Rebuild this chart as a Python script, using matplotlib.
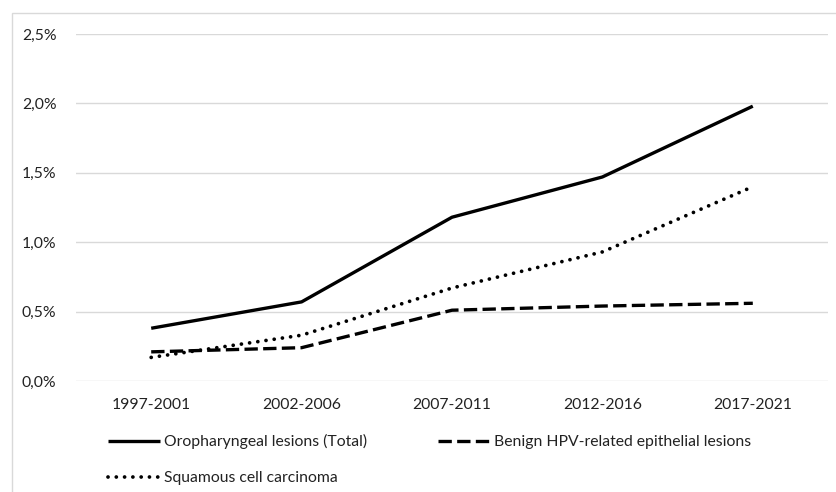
import matplotlib
matplotlib.use("Agg")
import matplotlib.pyplot as plt
from matplotlib.patches import Rectangle
from matplotlib.ticker import FuncFormatter

categories = ["1997-2001", "2002-2006", "2007-2011", "2012-2016", "2017-2021"]
total = [0.38, 0.57, 1.18, 1.47, 1.98]
benign = [0.21, 0.24, 0.51, 0.54, 0.56]
scc = [0.17, 0.33, 0.67, 0.93, 1.40]
yticks = [0.0, 0.5, 1.0, 1.5, 2.0, 2.5]

plt.rcParams['font.family'] = ['Lato', 'DejaVu Sans']
TXT = '#222222'

W, H = 837, 492
fig = plt.figure(figsize=(W/100, H/100), dpi=100)
ax = fig.add_axes([76/W, 1-381/H, (828-76)/W, (381-34)/H])

x = list(range(len(categories)))
lw = 2.4
l1, = ax.plot(x, total, color='black', lw=lw, solid_capstyle='butt',
              label='Oropharyngeal lesions (Total)')
l2, = ax.plot(x, benign, color='black', lw=lw, linestyle=(0, (4.0, 1.6)),
              dash_capstyle='butt', label='Benign HPV-related epithelial lesions')
l3, = ax.plot(x, scc, color='black', lw=2.7, linestyle=(0, (0.01, 2.2)),
              dash_capstyle='round', label='Squamous cell carcinoma')

ax.set_xlim(-0.5, len(categories)-0.5)
ax.set_ylim(0, 2.5)
ax.set_yticks(yticks)
ax.yaxis.set_major_formatter(FuncFormatter(lambda v, p: f"{v:.1f}%".replace('.', ',')))
ax.set_xticks(x)
ax.set_xticklabels(categories)
ax.grid(axis='y', color='#d9d9d9', lw=1)
ax.set_axisbelow(True)
for s in ax.spines.values():
    s.set_visible(False)
ax.tick_params(axis='both', length=0, labelsize=11.3, colors=TXT)
ax.tick_params(axis='x', pad=12)
ax.tick_params(axis='y', pad=14)

fig.patches.append(Rectangle((12/W, -0.2), 1.2, 1.2-13/H, transform=fig.transFigure,
                             fill=False, edgecolor='#d9d9d9', lw=1))

leg = fig.legend(handles=[l1, l3, l2], ncol=2, loc='upper left',
                 bbox_to_anchor=(108/W, 1-434/H), frameon=False,
                 fontsize=11.3, handlelength=3.3, handletextpad=0.25,
                 columnspacing=4.55, labelspacing=1.42, borderaxespad=0,
                 borderpad=0)
for t in leg.get_texts():
    t.set_color(TXT)

fig.savefig("out.png", dpi=100)
